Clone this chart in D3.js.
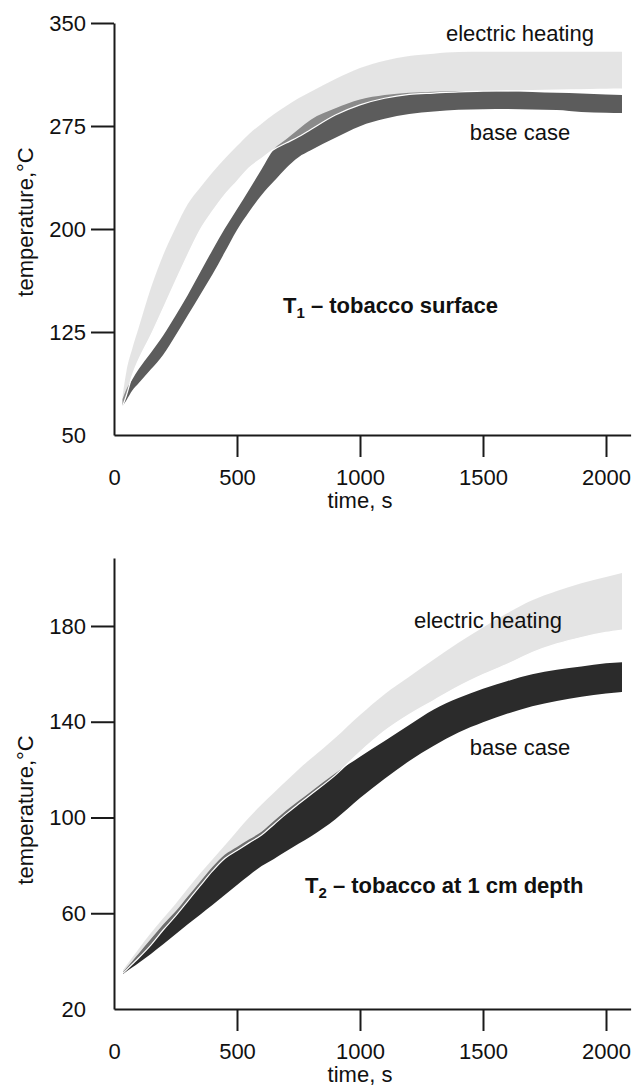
<!DOCTYPE html>
<html>
<head>
<meta charset="utf-8">
<script src="https://cdn.jsdelivr.net/npm/d3@7"></script>
<style>
  html, body { margin: 0; padding: 0; background: #fff; }
  svg { display: block; }
  text { font-family: "Liberation Sans", Arial, Helvetica, sans-serif; }
</style>
</head>
<body>
<div id="chart"></div>
<script>
// ---- data (time in s, temperature in °C) ----
const xTicks = [0, 500, 1000, 1500, 2000];

// T1 - tobacco surface
const t1Time = [35, 50, 75, 100, 150, 200, 250, 300, 350, 400, 450, 500, 550, 600, 650, 700, 750, 800,
  900, 1000, 1100, 1200, 1300, 1400, 1500, 1600, 1700, 1800, 1900, 2000, 2065];
const t1HeatUpper = [78.4, 95.9, 113.4, 127.9, 157, 181.1, 200.7, 218.2, 230.1, 241.1, 251.1, 260.4, 269.4,
  276.7, 283.5, 289.6, 295.2, 300, 309.2, 317.2, 322.5, 326, 327.7, 328.9, 329, 329, 329, 329, 329, 329, 329];
const t1HeatLower = [71.1, 78.6, 93.7, 104.8, 122.7, 142.2, 161.9, 181.3, 199.3, 212.8, 224.9, 234.7, 244.6,
  251.4, 257.9, 262.6, 267.1, 272.5, 283, 290.4, 295.2, 298, 299, 299.9, 300.3, 300.6, 300.8, 301.2, 301.4, 301.7, 301.9];
const t1BaseUpper = [76.2, 83.1, 90.6, 97.8, 109.9, 122.5, 136.9, 152, 168.4, 184.6, 200.1, 214.3, 228.7,
  243.5, 258, 265.3, 272.6, 279.6, 288, 294.3, 297.6, 299.3, 300, 300.5, 300.5, 300.3, 299.8, 299.2, 298.7, 298, 297.6];
const t1BaseLower = [71.1, 75.2, 82.6, 87.6, 97.8, 108.5, 122.5, 137.2, 152, 166.8, 183, 199.3, 212.7,
  224.8, 234.7, 244.5, 252.3, 257.3, 266.4, 274.9, 280.2, 283.7, 285.5, 286.8, 287.2, 287.3, 287, 286.7, 285.2, 284.7, 284.5];
const t1YTicks = [50, 125, 200, 275, 350];

// T2 - tobacco at 1 cm depth
const t2Time = [37, 75, 100, 150, 200, 250, 300, 350, 400, 450, 500, 550, 600, 650, 700, 750, 800,
  900, 1000, 1100, 1200, 1300, 1400, 1500, 1600, 1700, 1800, 1900, 2000, 2065];
const t2HeatUpper = [36.3, 41.6, 45.1, 51.7, 57.9, 63.9, 70.3, 76.6, 82.5, 88.3, 94.3, 100.1, 105.4, 110.3,
  115.2, 120.1, 124.5, 133.3, 142.8, 151.5, 158.8, 166, 173, 179.4, 185.4, 190.7, 194.6, 197.9, 200.5, 202.1];
const t2HeatLower = [35, 38.8, 41.3, 46.7, 53, 58.8, 65.1, 71.4, 77.6, 82.9, 86.2, 89.5, 92.7, 97.1,
  101.5, 105.6, 109.6, 117.7, 127.4, 136.1, 143, 148.9, 154.7, 159.7, 164.1, 168.9, 172.5, 175.2, 177.3, 178.3];
const t2BaseUpper = [35.5, 40.1, 43.1, 49.2, 55.3, 60.7, 67, 73.2, 79.3, 84.4, 87.7, 90.9, 94, 98.5,
  102.9, 106.9, 110.8, 118.5, 125.4, 132, 138.6, 145.1, 149.9, 153.8, 157, 159.8, 161.7, 163.1, 164.4, 164.9];
const t2BaseLower = [34.6, 37.4, 39.2, 43, 47, 51.2, 55.4, 59.4, 63.4, 67.6, 71.8, 75.9, 79.7, 82.7,
  85.9, 89, 92.1, 99.3, 108.1, 116.2, 123.6, 130, 135.5, 139.8, 143.4, 146.5, 148.7, 150.4, 151.8, 152.4];
const t2YTicks = [20, 60, 100, 140, 180];

const W = 635, H = 1086;
const FONT = 22;

const svg = d3.select("#chart").append("svg")
  .attr("width", W)
  .attr("height", H);

function drawPanel(p) {
  const x = d3.scaleLinear().domain([0, 2100]).range([114, 630.6]);
  const y = d3.scaleLinear().domain(p.yDomain).range(p.yRange);
  const g = svg.append("g");

  const rows = (lo, hi) => p.time.map((t, i) => ({ t, lo: lo[i], hi: hi[i] }));
  const area = d3.area()
    .curve(d3.curveMonotoneX)
    .x(d => x(d.t))
    .y0(d => y(d.lo))
    .y1(d => y(d.hi));

  // base case (dark) below, electric heating (light, translucent) on top
  g.append("path")
    .datum(rows(p.baseLower, p.baseUpper))
    .attr("fill", p.darkColor)
    .attr("d", area);

  const heat = rows(p.heatLower, p.heatUpper);
  g.append("path")
    .datum(heat)
    .attr("fill", "rgb(195,195,195)")
    .attr("fill-opacity", 0.45)
    .attr("d", area);

  g.append("path")
    .datum(heat)
    .attr("fill", "none")
    .attr("stroke", "#fff")
    .attr("stroke-width", 1.2)
    .attr("d", d3.line().curve(d3.curveMonotoneX).x(d => x(d.t)).y(d => y(d.lo)));

  // axes
  const yAxis = g.append("g")
    .attr("transform", `translate(${x(0)},0)`)
    .call(d3.axisLeft(y).tickValues(p.yTicks).tickFormat(d3.format("d"))
      .tickSize(23).tickPadding(5).tickSizeOuter(0));
  const xAxis = g.append("g")
    .attr("transform", `translate(0,${y(p.yDomain[0])})`)
    .call(d3.axisBottom(x).tickValues(xTicks).tickFormat(d3.format("d"))
      .tickSize(22).tickPadding(12).tickSizeOuter(0));

  [yAxis, xAxis].forEach(ax => {
    ax.attr("font-size", FONT).attr("font-family", null);
    ax.selectAll("path, line").attr("stroke", "#1a1a1a").attr("stroke-width", 2);
    ax.selectAll("text").attr("fill", "#111");
    // the corner has no tick marks
    ax.selectAll(".tick").filter((d, i) => i === 0).select("line").remove();
  });

  g.append("text")
    .attr("transform", `translate(25,${p.yTitleY}) rotate(-90)`)
    .attr("text-anchor", "middle")
    .attr("dy", "0.35em")
    .attr("font-size", FONT)
    .attr("fill", "#111")
    .text("temperature,°C");

  g.append("text")
    .attr("x", 360)
    .attr("y", y(p.yDomain[0]) + 65)
    .attr("text-anchor", "middle")
    .attr("dy", "0.35em")
    .attr("font-size", FONT)
    .attr("fill", "#111")
    .text("time, s");

  // series labels
  p.labels.forEach(l => {
    g.append("text")
      .attr("x", l.x)
      .attr("y", l.y)
      .attr("text-anchor", "middle")
      .attr("dy", "0.35em")
      .attr("font-size", FONT)
      .attr("fill", "#111")
      .text(l.text);
  });

  // panel title with subscript
  const title = g.append("text")
    .attr("x", p.titleX)
    .attr("y", p.titleY)
    .attr("dy", "0.35em")
    .attr("font-size", FONT)
    .attr("font-weight", "bold")
    .attr("fill", "#111");
  title.append("tspan").text("T");
  title.append("tspan").attr("font-size", 15).attr("dy", 5).text(p.sub);
  title.append("tspan").attr("dy", -5).text(" – " + p.title);
}

drawPanel({
  time: t1Time,
  heatUpper: t1HeatUpper, heatLower: t1HeatLower,
  baseUpper: t1BaseUpper, baseLower: t1BaseLower,
  yDomain: [50, 350], yRange: [435, 23], yTicks: t1YTicks,
  darkColor: "#5c5c5c",
  yTitleY: 222,
  labels: [
    { text: "electric heating", x: 520, y: 33 },
    { text: "base case", x: 520, y: 132 }
  ],
  sub: "1", title: "tobacco surface", titleX: 283, titleY: 305
});

drawPanel({
  time: t2Time,
  heatUpper: t2HeatUpper, heatLower: t2HeatLower,
  baseUpper: t2BaseUpper, baseLower: t2BaseLower,
  yDomain: [20, 208.4], yRange: [1009, 558], yTicks: t2YTicks,
  darkColor: "#2b2b2b",
  yTitleY: 810,
  labels: [
    { text: "electric heating", x: 488, y: 620 },
    { text: "base case", x: 520, y: 747 }
  ],
  sub: "2", title: "tobacco at 1 cm depth", titleX: 305, titleY: 885
});
</script>
</body>
</html>
